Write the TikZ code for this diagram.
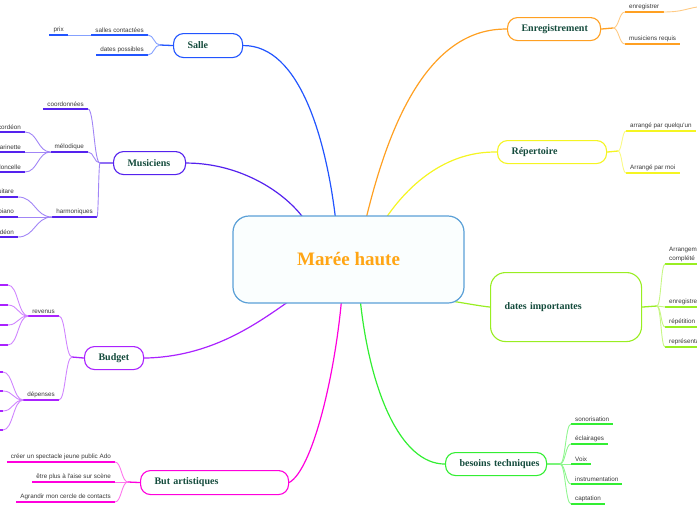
\documentclass[tikz,border=0pt]{standalone}
\usepackage{fontspec}
\setmainfont{Liberation Serif}
\newfontfamily\labfont{Liberation Sans}
\usetikzlibrary{calc,backgrounds}
\definecolor{cSalle}{RGB}{34,85,255}
\definecolor{cMus}{RGB}{85,34,238}
\definecolor{cBud}{RGB}{170,34,255}
\definecolor{cArt}{RGB}{255,0,221}
\definecolor{cBes}{RGB}{51,238,51}
\definecolor{cDat}{RGB}{153,238,34}
\definecolor{cRep}{RGB}{245,245,34}
\definecolor{cEnr}{RGB}{255,160,34}
\definecolor{cCenB}{RGB}{91,160,215}
\definecolor{cCenF}{RGB}{250,254,254}
\definecolor{cTitle}{RGB}{20,75,60}
\definecolor{cCenT}{RGB}{255,165,20}
\newcommand\leafnode[5]{%
  \node[leaf, anchor=#2] (#1) at (#3) {#5};
  \draw[ul=#4] (#1.south west) -- (#1.south east);}
\begin{document}
\begin{tikzpicture}[x=1pt,y=-1pt,
  mainbox/.style={draw=#1, line width=1.1pt, rounded corners=10pt, fill=white,
    font=\bfseries\fontsize{10}{12}\selectfont, text=cTitle, align=left,
    inner xsep=14pt, inner ysep=0pt, anchor=north west},
  leaf/.style={font=\labfont\fontsize{6.3}{7.5}\selectfont, text=black!78,
    inner xsep=4pt, inner ysep=1.8pt, align=left},
  ul/.style={draw=#1, line width=1.8pt},
  stub/.style={draw=#1, line width=1.3pt},
  conn/.style={draw=#1, line width=1.2pt},
  hcurve/.style={to path={let \p1=(\tikztostart), \p2=(\tikztotarget) in
    .. controls ({0.5*\x1+0.5*\x2},\y1) and ({0.5*\x1+0.5*\x2},\y2) .. (\tikztotarget)}},
  sub/.style={draw=#1!55!white, line width=0.9pt, hcurve}]
\useasboundingbox (0,0) rectangle (697,520);
\clip (0,0) rectangle (697,520);

% central topic
\node[draw=cCenB, line width=1.2pt, fill=cCenF, rounded corners=16pt,
  minimum width=231pt, minimum height=87pt, inner sep=0pt,
  font=\bfseries\fontsize{19}{22}\selectfont, text=cCenT] (center) at (348.5,259.5) {\raisebox{-2.5pt}{Marée haute}};

% main topics
\node[mainbox=cSalle, text width=41pt, minimum height=24pt] (salle) at (173,33) {Salle};
\node[mainbox=cMus, text width=44pt, minimum height=23pt] (mus) at (113,151) {\mbox{Musiciens}};
\node[mainbox=cBud, text width=31pt, minimum height=23pt] (bud) at (84,346) {\mbox{Budget}};
\node[mainbox=cArt, text width=120pt, minimum height=24pt] (art) at (140,470) {But artistiques};
\node[mainbox=cEnr, text width=65pt, minimum height=23pt] (enr) at (507,17) {\mbox{Enregistrement}};
\node[mainbox=cRep, text width=81pt, minimum height=23pt] (rep) at (497,140) {Répertoire};
\node[mainbox=cDat, text width=123pt, minimum height=69pt, rounded corners=15pt] (dat) at (490,272) {dates importantes};
\node[mainbox=cBes, text width=73pt, minimum height=23pt] (bes) at (445,452) {\mbox{besoins techniques}};

\begin{pgfonlayer}{background}
\draw[conn=cSalle] (salle.east) .. controls (300,45) and (326,140) .. ($(center.north west)+(103,2)$);
\draw[conn=cMus] (mus.east) .. controls (240,163) and (285,192) .. ($(center.north west)+(72,4)$);
\draw[conn=cBud] (bud.east) .. controls (210,357) and (255,325) .. ($(center.south west)+(56,-2)$);
\draw[conn=cArt] (art.east) .. controls (312,470) and (334,380) .. ($(center.south west)+(109,-2)$);
\draw[conn=cBes] ($(center.south west)+(128,-2)$) .. controls (370,390) and (400,464) .. (bes.west);
\draw[conn=cEnr] ($(center.north west)+(134,2)$) .. controls (390,120) and (430,28) .. (enr.west);
\draw[conn=cRep] ($(center.north west)+(154,2)$) .. controls (412,180) and (450,151) .. (rep.west);
\draw[conn=cDat] ($(center.south east)+(-10,-2)$) .. controls (470,304) and (480,306) .. (dat.west);
\end{pgfonlayer}

% Salle
\coordinate (salleB) at (160,45);
\draw[stub=cSalle] (salle.west) -- (salleB);
\leafnode{salcont}{south east}{148,35}{cSalle}{salles contactées}
\leafnode{datpos}{south east}{148,55}{cSalle}{dates possibles}
\leafnode{prix}{south east}{68,35}{cSalle}{prix}
\draw[sub=cSalle] (salleB) to (salcont.south east);
\draw[sub=cSalle] (salleB) to (datpos.south east);
\draw[sub=cSalle] (salcont.south west) to (prix.south east);

% Musiciens
\coordinate (musB) at (100,163);
\draw[stub=cMus] (mus.west) -- (musB);
\leafnode{coord}{south east}{88,109}{cMus}{coordonnées}
\leafnode{melo}{south east}{88,152}{cMus}{mélodique}
\leafnode{harmo}{south east}{97,217}{cMus}{harmoniques}
\draw[sub=cMus] (musB) to (coord.south east);
\draw[sub=cMus] (musB) to (melo.south east);
\draw[sub=cMus] (musB) to (harmo.south east);
\leafnode{acc}{south east}{25,132}{cMus}{accordéon}
\leafnode{clar}{south east}{25,152}{cMus}{clarinette}
\leafnode{viol}{south east}{25,172}{cMus}{violoncelle}
\draw[sub=cMus] (melo.south west) to (acc.south east);
\draw[sub=cMus] (melo.south west) to (clar.south east);
\draw[sub=cMus] (melo.south west) to (viol.south east);
\leafnode{guit}{south east}{18,197}{cMus}{guitare}
\leafnode{piano}{south east}{18,217}{cMus}{piano}
\leafnode{accb}{south east}{18,237}{cMus}{accordéon}
\draw[sub=cMus] (harmo.south west) to (guit.south east);
\draw[sub=cMus] (harmo.south west) to (piano.south east);
\draw[sub=cMus] (harmo.south west) to (accb.south east);

% Budget
\coordinate (budB) at (72,357);
\draw[stub=cBud] (bud.west) -- (budB);
\leafnode{rev}{south east}{59,316}{cBud}{revenus}
\leafnode{dep}{south east}{59,400}{cBud}{dépenses}
\draw[sub=cBud] (budB) to (rev.south east);
\draw[sub=cBud] (budB) to (dep.south east);
\coordinate (r1) at (8,285);
\coordinate (r2) at (8,305);
\coordinate (r3) at (8,325);
\coordinate (r4) at (8,345);
\coordinate (d1) at (3,372);
\coordinate (d2) at (3,391);
\coordinate (d3) at (3,411);
\coordinate (d4) at (3,430);
\foreach \rr in {r1,r2,r3,r4}{
  \draw[ul=cBud] (\rr) -- ++(-14,0);
  \draw[sub=cBud] (rev.south west) to (\rr);}
\foreach \dd in {d1,d2,d3,d4}{
  \draw[ul=cBud] (\dd) -- ++(-14,0);
  \draw[sub=cBud] (dep.south west) to (\dd);}

% But artistiques
\coordinate (artB) at (128,482);
\draw[stub=cArt] (art.west) -- (artB);
\leafnode{creer}{south east}{115,462}{cArt}{créer un spectacle jeune public Ado}
\leafnode{etre}{south east}{115,482}{cArt}{être plus à l'aise sur scène}
\leafnode{agr}{south east}{115,502}{cArt}{Agrandir mon cercle de contacts}
\draw[sub=cArt] (artB) to (creer.south east);
\draw[sub=cArt] (artB) to (etre.south east);
\draw[sub=cArt] (artB) to (agr.south east);

% Enregistrement
\coordinate (enrB) at (613,28);
\draw[stub=cEnr] (enr.east) -- (enrB);
\leafnode{enreg}{south west}{625,12}{cEnr}{enregistrer}
\leafnode{musreq}{south west}{625,44}{cEnr}{musiciens requis}
\draw[sub=cEnr] (enrB) to (enreg.south west);
\draw[sub=cEnr] (enrB) to (musreq.south west);
\coordinate (offE) at (712,6);
\draw[sub=cEnr] (enreg.south east) to (offE);

% Repertoire
\coordinate (repB) at (618,151);
\draw[stub=cRep] (rep.east) -- (repB);
\leafnode{arrq}{south west}{626,131}{cRep}{arrangé par quelqu'un}
\leafnode{arrm}{south west}{626,173}{cRep}{Arrangé par moi}
\draw[sub=cRep] (repB) to (arrq.south west);
\draw[sub=cRep] (repB) to (arrm.south west);

% dates importantes
\coordinate (datB) at (657,306);
\draw[stub=cDat] (dat.east) -- (datB);
\node[leaf, anchor=south west, font=\labfont\fontsize{6.3}{9}\selectfont] (arrc) at (665,264) {Arrangement\\complété};
\draw[ul=cDat] (arrc.south west) -- (arrc.south east);
\leafnode{denr}{south west}{665,307}{cDat}{enregistrement}
\leafnode{drep}{south west}{665,327}{cDat}{répétition}
\leafnode{drepr}{south west}{665,347}{cDat}{représentation}
\draw[sub=cDat] (datB) to (arrc.south west);
\draw[sub=cDat] (datB) to (denr.south west);
\draw[sub=cDat] (datB) to (drep.south west);
\draw[sub=cDat] (datB) to (drepr.south west);

% besoins techniques
\coordinate (besB) at (560,464);
\draw[stub=cBes] (bes.east) -- (besB);
\leafnode{sono}{south west}{571,424}{cBes}{sonorisation}
\leafnode{ecl}{south west}{571,444}{cBes}{éclairages}
\leafnode{voix}{south west}{571,464}{cBes}{Voix}
\leafnode{instr}{south west}{571,484}{cBes}{instrumentation}
\leafnode{capt}{south west}{571,504}{cBes}{captation}
\draw[sub=cBes] (besB) to (sono.south west);
\draw[sub=cBes] (besB) to (ecl.south west);
\draw[sub=cBes] (besB) to (voix.south west);
\draw[sub=cBes] (besB) to (instr.south west);
\draw[sub=cBes] (besB) to (capt.south west);
\end{tikzpicture}
\end{document}
